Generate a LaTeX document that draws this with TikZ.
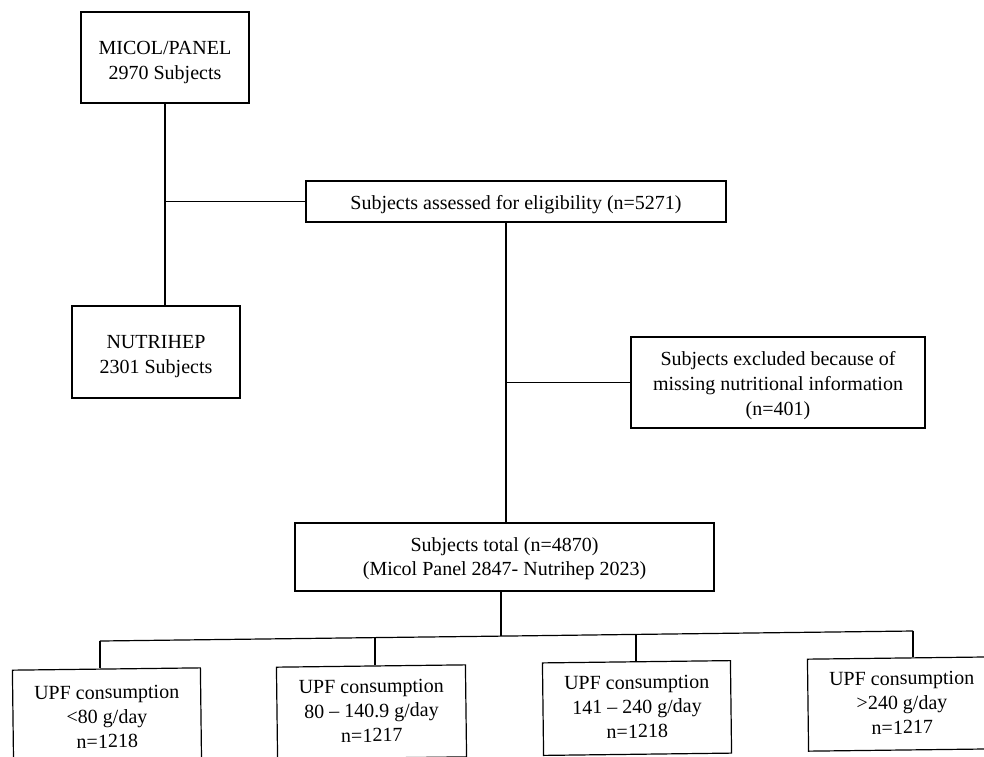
\documentclass[tikz,border=0pt]{standalone}
\usepackage{fontspec}
\setmainfont{Liberation Serif}
\usetikzlibrary{calc}
\newcommand{\boxlines}[2]{\raisebox{-#1}[\height][\depth]{\begin{tabular}{@{}c@{}}#2\end{tabular}}}
\begin{document}
\begin{tikzpicture}[x=1pt,y=-1pt,
  box/.style={draw, line width=1.2pt, inner sep=0pt, font=\fontsize{20}{25}\selectfont},
  link/.style={line width=1.2pt},
  tilt/.style={rotate=0.7}]
\clip (0,0) rectangle (984,756);
\fill[white] (0,0) rectangle (984,756);
% boxes
\node[box,minimum width=168pt,minimum height=91pt] (micol) at (165,57.5) {\boxlines{4pt}{MICOL/PANEL\\2970 Subjects}};
\node[box,minimum width=168pt,minimum height=92pt] (nutri) at (156,352) {\boxlines{3.5pt}{NUTRIHEP\\2301 Subjects}};
\node[box,minimum width=420pt,minimum height=41pt] (elig) at (516,201.5) {\boxlines{3pt}{Subjects assessed for eligibility (n=5271)}};
\node[box,minimum width=294pt,minimum height=91pt] (excl) at (778,382.5) {\boxlines{2.5pt}{Subjects excluded because of\\missing nutritional information\\(n=401)}};
\node[box,minimum width=419pt,minimum height=68pt,font=\fontsize{20}{23.5}\selectfont] (total) at (504.5,557) {\boxlines{2pt}{Subjects total (n=4870)\\(Micol Panel 2847- Nutrihep 2023)}};
\node[box,tilt,minimum width=188pt,minimum height=98pt,font=\fontsize{20}{24.5}\selectfont] (u1) at (107,718) {\boxlines{0.5pt}{UPF consumption\\<80 g/day\\n=1218}};
\node[box,tilt,minimum width=189pt,minimum height=92pt,font=\fontsize{20}{24.5}\selectfont] (u2) at (371.5,712) {\boxlines{0.5pt}{UPF consumption\\80 – 140.9 g/day\\n=1217}};
\node[box,tilt,minimum width=188pt,minimum height=92.5pt,font=\fontsize{20}{24.5}\selectfont] (u3) at (637,708) {\boxlines{0.5pt}{UPF consumption\\141 – 240 g/day\\n=1218}};
\node[box,tilt,minimum width=188pt,minimum height=92pt,font=\fontsize{20}{24.5}\selectfont] (u4) at (902,704) {\boxlines{0.5pt}{UPF consumption\\>240 g/day\\n=1217}};
% coordinates
\coordinate (ev) at (506,222);
\coordinate (tv) at (501,591);
\coordinate (bm) at (501,636.1);
\coordinate (b0) at (100,641);
\coordinate (b1) at (375,637.6);
\coordinate (b2) at (636,634.4);
\coordinate (b3) at (913,631);
% connectors
\draw[link] (micol.south) -- (micol.south |- nutri.north);
\draw[link] (micol.south |- elig.west) -- (elig.west);
\draw[link] (ev) -- (ev |- total.north);
\draw[link] (ev |- excl.west) -- (excl.west);
\draw[link] (tv) -- (bm);
\draw[link] (b0) -- (b1) -- (bm) -- (b2) -- (b3);
\draw[link] (b0) -- (b0 |- u1.north);
\draw[link] (b1) -- (b1 |- u2.north);
\draw[link] (b2) -- (b2 |- u3.north);
\draw[link] (b3) -- (b3 |- u4.north);
\end{tikzpicture}
\end{document}
